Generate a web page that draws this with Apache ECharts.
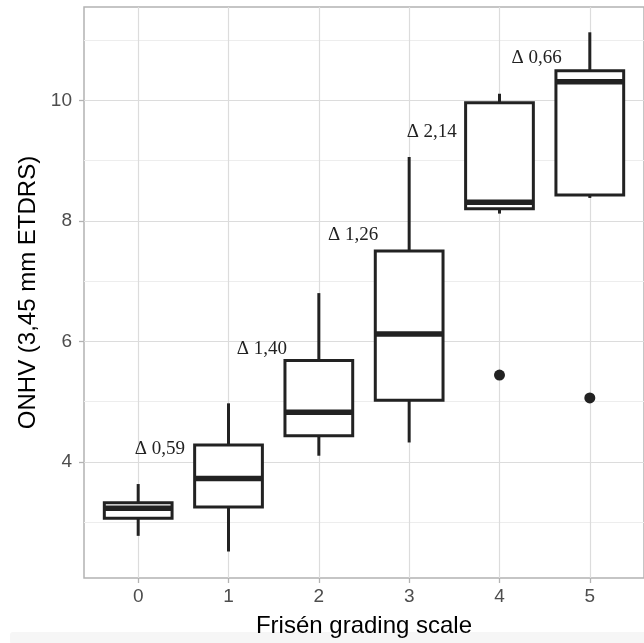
<!DOCTYPE html>
<html>
<head>
<meta charset="utf-8">
<title>ONHV by Frisén grade</title>
<script src="https://cdn.jsdelivr.net/npm/echarts@6.0.0/dist/echarts.min.js"></script>
<style>
    html, body { margin: 0; padding: 0; background: #fff; }
    #boxChart { width: 644px; height: 643px; }
</style>
</head>
<body>
<div id="boxChart"></div>
<script>
// Frisén grade on x, box statistics on y
var grades = [0, 1, 2, 3, 4, 5];
var whiskerLow = [2.77, 2.51, 4.10, 4.32, 8.12, 8.38];
var quartile1 = [3.06, 3.25, 4.43, 5.02, 8.20, 8.43];
var medians = [3.23, 3.72, 4.82, 6.12, 8.31, 10.31];
var quartile3 = [3.32, 4.28, 5.68, 7.50, 9.96, 10.49];
var whiskerHigh = [3.63, 4.97, 6.80, 9.06, 10.11, 11.13];

// outliers
var outlierGrades = [4, 5];
var outlierValues = [5.44, 5.06];

// delta annotations
var deltaTexts = ['Δ 0,59', 'Δ 1,40', 'Δ 1,26', 'Δ 2,14', 'Δ 0,66'];
var deltaX = [0.24, 1.37, 2.38, 3.25, 4.41];
var deltaY = [4.21, 5.88, 7.77, 9.47, 10.71];

var yTicks = [4, 6, 8, 10];

/**
 * draws one box: whiskers, box, thick median
 */
function renderBox(params, api) {
    var x = api.value(0);
    var half = api.size([0.75, 0])[0] / 2;
    var low = api.coord([x, api.value(1)]);
    var q1 = api.coord([x, api.value(2)]);
    var med = api.coord([x, api.value(3)]);
    var q3 = api.coord([x, api.value(4)]);
    var high = api.coord([x, api.value(5)]);
    var ink = '#222222';
    return {
        type: 'group',
        children: [
            {type: 'line', shape: {x1: low[0], y1: low[1], x2: q1[0], y2: q1[1]}, style: {stroke: ink, lineWidth: 3}},
            {type: 'line', shape: {x1: q3[0], y1: q3[1], x2: high[0], y2: high[1]}, style: {stroke: ink, lineWidth: 3}},
            {type: 'rect', shape: {x: q3[0] - half, y: q3[1], width: half * 2, height: q1[1] - q3[1]}, style: {fill: '#ffffff', stroke: ink, lineWidth: 3}},
            {type: 'line', shape: {x1: med[0] - half, y1: med[1], x2: med[0] + half, y2: med[1]}, style: {stroke: ink, lineWidth: 5.5}}
        ]
    };
}

function renderDelta(params, api) {
    var p = api.coord([api.value(0), api.value(1)]);
    return {
        type: 'text',
        x: p[0],
        y: p[1],
        style: {
            text: deltaTexts[params.dataIndex],
            fill: '#222222',
            fontFamily: 'Liberation Serif',
            fontSize: 19,
            align: 'center',
            verticalAlign: 'middle'
        }
    };
}

function intLabel(v) {
    return Math.abs(v - Math.round(v)) < 1e-6 ? String(Math.round(v)) : '';
}

var boxData = grades.map(function (g, i) {
    return [g, whiskerLow[i], quartile1[i], medians[i], quartile3[i], whiskerHigh[i]];
});
var outlierData = outlierGrades.map(function (g, i) {
    return [g, outlierValues[i]];
});
var deltaData = deltaX.map(function (x, i) {
    return [x, deltaY[i]];
});

var myChart = echarts.init(document.getElementById('boxChart'), null, {renderer: 'canvas'});
var option = {
    backgroundColor: '#ffffff',
    animation: false,
    graphic: [{
        type: 'rect',
        z: -10,
        shape: {x: 10, y: 632, width: 640, height: 12, r: 3},
        style: {fill: '#f6f6f6'}
    }],
    grid: {
        left: 84,
        right: -5,
        top: 7,
        bottom: 64,
        show: true,
        backgroundColor: 'transparent',
        borderColor: '#b3b3b3',
        borderWidth: 1.5
    },
    xAxis: {
        type: 'value',
        min: -0.6,
        max: 5.6,
        name: 'Frisén grading scale',
        nameLocation: 'middle',
        nameGap: 36,
        nameTextStyle: {fontFamily: 'Liberation Sans', fontSize: 24, color: '#000000'},
        axisLine: {show: false, onZero: false},
        axisTick: {show: true, length: 5, customValues: grades, lineStyle: {color: '#b3b3b3', width: 1.3}},
        axisLabel: {customValues: grades, formatter: intLabel, margin: 9, fontFamily: 'Liberation Sans', fontSize: 19, color: '#4d4d4d'},
        splitLine: {show: true, lineStyle: {color: '#dcdcdc', width: 1.2}}
    },
    yAxis: {
        type: 'value',
        min: 2.07,
        max: 11.55,
        name: 'ONHV (3,45 mm ETDRS)',
        nameLocation: 'middle',
        nameGap: 44,
        nameTextStyle: {fontFamily: 'Liberation Sans', fontSize: 24, color: '#000000'},
        axisLine: {show: false, onZero: false},
        axisTick: {show: true, length: 5, customValues: yTicks, lineStyle: {color: '#b3b3b3', width: 1.3}},
        axisLabel: {customValues: yTicks, formatter: intLabel, margin: 12, fontFamily: 'Liberation Sans', fontSize: 19, color: '#4d4d4d'},
        minorTick: {show: false, splitNumber: 2},
        splitLine: {show: true, lineStyle: {color: '#dcdcdc', width: 1.2}},
        minorSplitLine: {show: true, lineStyle: {color: '#ededed', width: 1}}
    },
    series: [{
        type: 'custom',
        name: 'box',
        renderItem: renderBox,
        encode: {x: 0, y: [1, 2, 3, 4, 5]},
        data: boxData,
        z: 3
    }, {
        type: 'scatter',
        name: 'outliers',
        symbol: 'circle',
        symbolSize: 11,
        itemStyle: {color: '#222222', opacity: 1},
        data: outlierData,
        z: 4
    }, {
        type: 'custom',
        name: 'delta',
        renderItem: renderDelta,
        data: deltaData,
        z: 5
    }]
};
myChart.setOption(option, true);
</script>
</body>
</html>
